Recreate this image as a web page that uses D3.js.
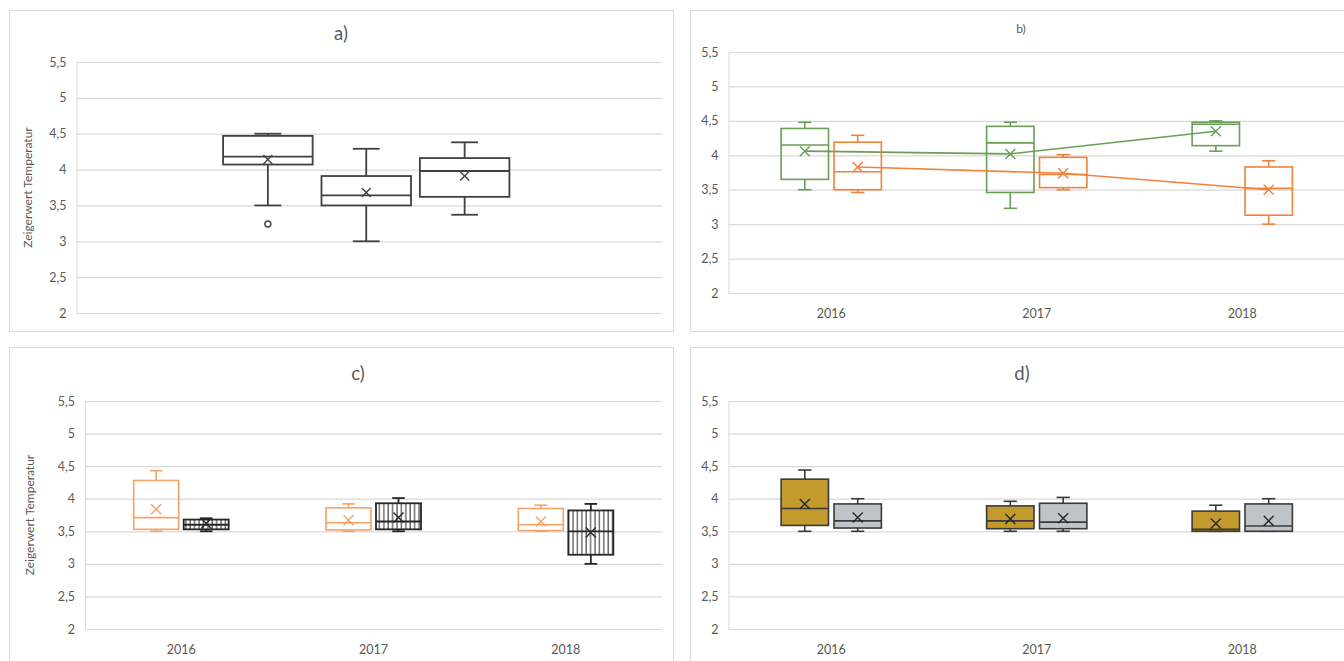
<!DOCTYPE html>
<html>
<head>
<meta charset="utf-8">
<script src="https://cdn.jsdelivr.net/npm/d3@7"></script>
<style>
  body { margin: 0; background: #fff; }
  svg { display: block; font-family: Lato, "Open Sans", sans-serif; }
</style>
</head>
<body>
<svg id="chart" width="1344" height="661"></svg>
<script>
const years = ['2016', '2017', '2018'];
const yTicks = [2, 2.5, 3, 3.5, 4, 4.5, 5, 5.5];
const yTitle = 'Zeigerwert Temperatur';

// every box: [min, q1, median, q3, max]
const aBoxes = [[3.5, 4.07, 4.18, 4.47, 4.5], [3.0, 3.5, 3.64, 3.91, 4.29], [3.37, 3.62, 3.98, 4.16, 4.38]];
const aMeans = [4.14, 3.68, 3.91];
const aOutliers = [[3.24], [], []];

const bGreen = [[3.5, 3.65, 4.15, 4.39, 4.48], [3.23, 3.46, 4.18, 4.42, 4.48], [4.06, 4.14, 4.45, 4.48, 4.5]];
const bGreenMeans = [4.06, 4.02, 4.35];
const bOrange = [[3.46, 3.5, 3.76, 4.19, 4.29], [3.5, 3.53, 3.72, 3.97, 4.01], [3.0, 3.13, 3.52, 3.83, 3.92]];
const bOrangeMeans = [3.83, 3.74, 3.5];

const cOrange = [[3.5, 3.53, 3.71, 4.28, 4.43], [3.5, 3.52, 3.63, 3.86, 3.92], [3.5, 3.51, 3.6, 3.85, 3.9]];
const cOrangeMeans = [3.84, 3.67, 3.65];
const cHatch = [[3.5, 3.53, 3.6, 3.68, 3.7], [3.5, 3.53, 3.65, 3.93, 4.01], [3.0, 3.14, 3.5, 3.82, 3.92]];
const cHatchMeans = [3.62, 3.71, 3.48];

const dGold = [[3.5, 3.59, 3.85, 4.3, 4.44], [3.5, 3.54, 3.66, 3.89, 3.96], [3.5, 3.5, 3.53, 3.81, 3.9]];
const dGoldMeans = [3.92, 3.69, 3.62];
const dGray = [[3.5, 3.55, 3.66, 3.92, 4.0], [3.5, 3.54, 3.64, 3.93, 4.02], [3.5, 3.5, 3.58, 3.92, 4.0]];
const dGrayMeans = [3.71, 3.7, 3.66];

const svg = d3.select('#chart');
const fmt = (d) => String(d).replace('.', ',');

const defs = svg.append('defs');
const pat = defs.append('pattern')
  .attr('id', 'vhatch')
  .attr('patternUnits', 'userSpaceOnUse')
  .attr('width', 4.4)
  .attr('height', 10);
pat.append('rect').attr('width', 4.4).attr('height', 10).attr('fill', '#fff');
pat.append('line').attr('x1', 1).attr('x2', 1).attr('y1', 0).attr('y2', 10)
  .attr('stroke', '#262626').attr('stroke-width', 1);

const panels = [
  {
    frame: [9, 10, 664, 321], title: 'a)', titleX: 341, titleY: 40, titleSize: 18.5,
    left: 76.5, right: 662, catRight: 656, top: 62, bottom: 313, cats: [''], showX: false, yLabel: true,
    labelX: 32, pi: 0.09, po: 1.49, cap: 0.3, markR: 4.5,
    series: aBoxes.map((b, i) => ({
      boxes: [b], means: [aMeans[i]], outliers: [aOutliers[i]],
      stroke: '#404040', fill: '#fff', width: 1.8, meanColor: '#404040'
    }))
  },
  {
    frame: [690, 10, 670, 321], title: 'b)', titleX: 1021, titleY: 33, titleSize: 12,
    left: 728.5, right: 1345, top: 52, bottom: 293, cats: years, showX: true, xLabelY: 318,
    pi: 0.104, po: 0.995, cap: 0.28, markR: 5, meanLine: true,
    series: [
      { boxes: bGreen, means: bGreenMeans, stroke: '#6A9E56', fill: 'none', width: 1.6, meanColor: '#6A9E56' },
      { boxes: bOrange, means: bOrangeMeans, stroke: '#F0823A', fill: 'none', width: 1.6, meanColor: '#F0823A' }
    ]
  },
  {
    frame: [9, 347, 664, 330], title: 'c)', titleX: 358, titleY: 380, titleSize: 18.5,
    left: 85, right: 662, top: 401, bottom: 629, cats: years, showX: true, xLabelY: 654, yLabel: true,
    labelX: 34, pi: 0.1, po: 0.973, cap: 0.28, markR: 5,
    series: [
      { boxes: cOrange, means: cOrangeMeans, stroke: '#F4A266', fill: 'none', width: 1.6, meanColor: '#F4A266' },
      { boxes: cHatch, means: cHatchMeans, stroke: '#262626', fill: 'url(#vhatch)', width: 1.8, meanColor: '#262626' }
    ]
  },
  {
    frame: [690, 347, 670, 330], title: 'd)', titleX: 1022, titleY: 380, titleSize: 18.5,
    left: 728.5, right: 1345, top: 401, bottom: 629, cats: years, showX: true, xLabelY: 654,
    pi: 0.104, po: 0.995, cap: 0.28, markR: 5,
    series: [
      { boxes: dGold, means: dGoldMeans, stroke: '#3a3a3a', fill: '#C29A2E', width: 1.6, meanColor: '#262626' },
      { boxes: dGray, means: dGrayMeans, stroke: '#3a3a3a', fill: '#BFC4CA', width: 1.6, meanColor: '#262626' }
    ]
  }
];

function drawPanel(p) {
  const g = svg.append('g');
  const [fx, fy, fw, fh] = p.frame;

  g.append('rect')
    .attr('x', fx + 0.5).attr('y', fy + 0.5)
    .attr('width', fw).attr('height', fh)
    .attr('fill', '#fff').attr('stroke', '#d9d9d9');

  g.append('text')
    .attr('x', p.titleX).attr('y', p.titleY)
    .attr('text-anchor', 'middle')
    .attr('font-size', p.titleSize)
    .attr('fill', '#595959')
    .text(p.title);

  const y = d3.scaleLinear().domain([2, 5.5]).range([p.bottom, p.top]);
  const x = d3.scaleBand().domain(p.cats).range([p.left, p.catRight || p.right]);
  const xs = d3.scaleBand()
    .domain(d3.range(p.series.length))
    .range([0, x.bandwidth()])
    .paddingInner(p.pi)
    .paddingOuter(p.po);

  const axis = g.append('g')
    .attr('transform', `translate(${p.left},0)`)
    .call(d3.axisLeft(y)
      .tickValues(yTicks)
      .tickSize(-(p.right - p.left))
      .tickSizeOuter(0)
      .tickPadding(10)
      .tickFormat(fmt));
  axis.select('.domain').attr('stroke', '#d9d9d9');
  axis.selectAll('.tick line').attr('stroke', '#d9d9d9').attr('stroke-width', 1.2);
  axis.selectAll('.tick text')
    .attr('fill', '#595959')
    .attr('font-size', 12.5)
    .attr('font-family', 'Lato, "Open Sans", sans-serif');

  if (p.showX) {
    g.selectAll('.xlab')
      .data(p.cats)
      .join('text')
      .attr('x', (d) => x(d) + x.bandwidth() / 2)
      .attr('y', p.xLabelY)
      .attr('text-anchor', 'middle')
      .attr('font-size', 12.5)
      .attr('fill', '#595959')
      .text((d) => d);
  }

  if (p.yLabel) {
    g.append('text')
      .attr('transform', `translate(${p.labelX},${(p.top + p.bottom) / 2}) rotate(-90)`)
      .attr('text-anchor', 'middle')
      .attr('font-size', 12)
      .attr('fill', '#595959')
      .text(yTitle);
  }

  const bw = xs.bandwidth();
  const capW = bw * p.cap;

  p.series.forEach((s, si) => {
    const cx = (i) => x(p.cats[i]) + xs(si) + bw / 2;
    const sg = g.append('g')
      .attr('fill', 'none')
      .attr('stroke', s.stroke)
      .attr('stroke-width', s.width);

    s.boxes.forEach((b, i) => {
      const [mn, q1, md, q3, mx] = b;
      const c = cx(i);
      // whiskers
      sg.append('line').attr('x1', c).attr('x2', c).attr('y1', y(q3)).attr('y2', y(mx));
      sg.append('line').attr('x1', c).attr('x2', c).attr('y1', y(q1)).attr('y2', y(mn));
      sg.append('line').attr('x1', c - capW / 2).attr('x2', c + capW / 2).attr('y1', y(mx)).attr('y2', y(mx));
      sg.append('line').attr('x1', c - capW / 2).attr('x2', c + capW / 2).attr('y1', y(mn)).attr('y2', y(mn));
      // box
      sg.append('rect')
        .attr('x', c - bw / 2).attr('y', y(q3))
        .attr('width', bw).attr('height', y(q1) - y(q3))
        .attr('fill', s.fill);
      // median
      sg.append('line').attr('x1', c - bw / 2).attr('x2', c + bw / 2).attr('y1', y(md)).attr('y2', y(md));

      if (s.outliers) {
        s.outliers[i].forEach((o) => {
          sg.append('circle').attr('cx', c).attr('cy', y(o)).attr('r', 3)
            .attr('fill', '#fff').attr('stroke-width', 1.4);
        });
      }
    });

    if (p.meanLine) {
      g.append('path')
        .datum(s.means)
        .attr('fill', 'none')
        .attr('stroke', s.meanColor)
        .attr('stroke-width', 1.6)
        .attr('d', d3.line().x((d, i) => cx(i)).y((d) => y(d)));
    }

    const r = p.markR;
    g.selectAll(null)
      .data(s.means)
      .join('path')
      .attr('fill', 'none')
      .attr('stroke', s.meanColor)
      .attr('stroke-width', 1.4)
      .attr('d', (d, i) => {
        const c = cx(i), m = y(d);
        return `M${c - r},${m - r}L${c + r},${m + r}M${c - r},${m + r}L${c + r},${m - r}`;
      });
  });
}

panels.forEach(drawPanel);
</script>
</body>
</html>
